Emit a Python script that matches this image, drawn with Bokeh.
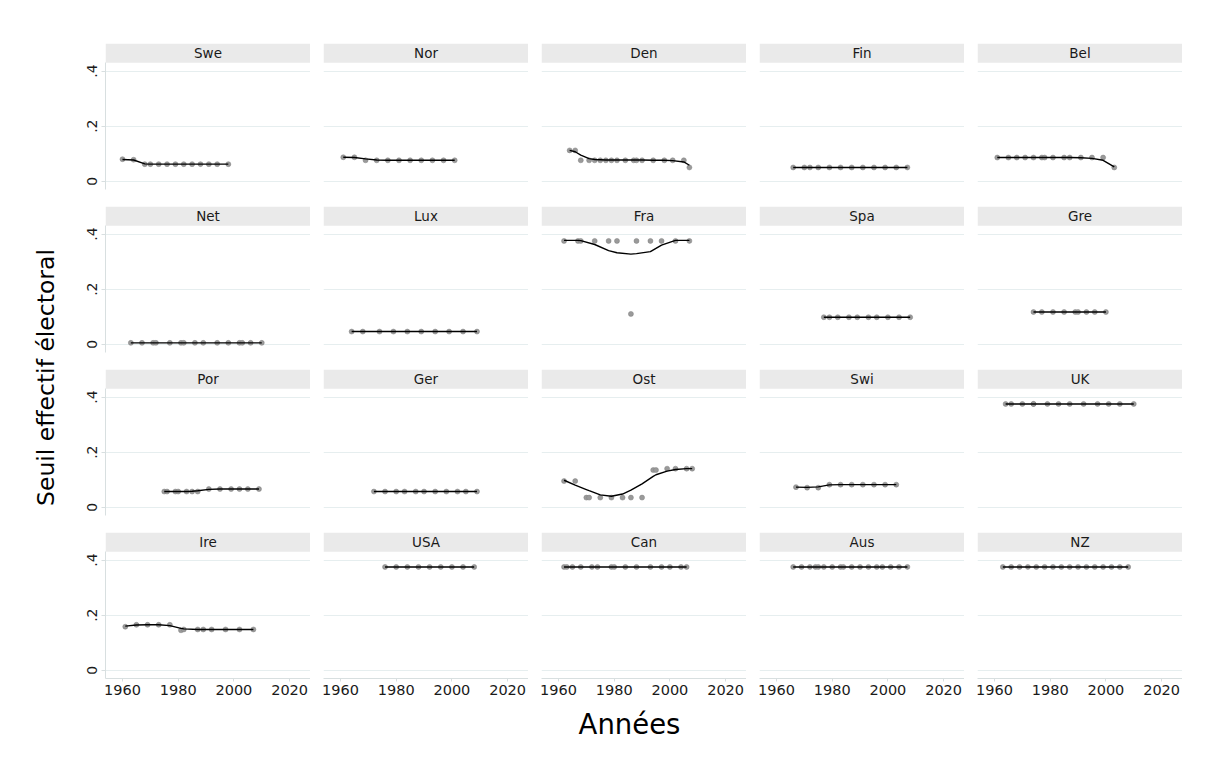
import math
from bokeh.plotting import figure
from bokeh.layouts import row, column
from bokeh.models import Range1d, FixedTicker, BoxAnnotation, Label
from bokeh.embed import file_html
from bokeh.resources import INLINE

FONT = "DejaVu Sans"

# ---------------- data ----------------
PANELS = ["Swe", "Nor", "Den", "Fin", "Bel",
          "Net", "Lux", "Fra", "Spa", "Gre",
          "Por", "Ger", "Ost", "Swi", "UK",
          "Ire", "USA", "Can", "Aus", "NZ"]

swe_years = [1960, 1964, 1968, 1970, 1973, 1976, 1979, 1982, 1985, 1988, 1991, 1994, 1998]
swe_vals = [0.080, 0.078, 0.062, 0.062, 0.062, 0.062, 0.062, 0.062, 0.062, 0.062, 0.062, 0.062, 0.062]
swe_fit = [0.079, 0.077, 0.063, 0.062, 0.062, 0.062, 0.062, 0.062, 0.062, 0.062, 0.062, 0.062, 0.062]

nor_years = [1961, 1965, 1969, 1973, 1977, 1981, 1985, 1989, 1993, 1997, 2001]
nor_vals = [0.087, 0.087, 0.076, 0.076, 0.076, 0.076, 0.076, 0.076, 0.076, 0.076, 0.076]
nor_fit = [0.087, 0.086, 0.081, 0.077, 0.076, 0.076, 0.076, 0.076, 0.076, 0.076, 0.076]

den_years = [1964, 1966, 1968, 1971, 1973, 1975, 1977, 1979, 1981, 1984, 1987, 1988, 1990, 1994, 1998, 2001, 2005, 2007]
den_vals = [0.112, 0.112, 0.076, 0.076, 0.076, 0.076, 0.076, 0.076, 0.076, 0.076, 0.076, 0.076, 0.076, 0.076, 0.076, 0.076, 0.076, 0.050]
den_fit = [0.112, 0.107, 0.095, 0.082, 0.079, 0.078, 0.077, 0.077, 0.077, 0.077, 0.077, 0.077, 0.077, 0.076, 0.076, 0.075, 0.070, 0.058]

fin_years = [1966, 1970, 1972, 1975, 1979, 1983, 1987, 1991, 1995, 1999, 2003, 2007]
fin_vals = [0.050, 0.050, 0.050, 0.050, 0.050, 0.050, 0.050, 0.050, 0.050, 0.050, 0.050, 0.050]

bel_years = [1961, 1965, 1968, 1971, 1974, 1977, 1978, 1981, 1985, 1987, 1991, 1995, 1999, 2003]
bel_vals = [0.086, 0.086, 0.086, 0.086, 0.086, 0.086, 0.086, 0.086, 0.086, 0.086, 0.086, 0.086, 0.086, 0.050]
bel_fit = [0.086, 0.086, 0.086, 0.086, 0.086, 0.086, 0.086, 0.086, 0.086, 0.086, 0.085, 0.083, 0.076, 0.052]

net_years = [1963, 1967, 1971, 1972, 1977, 1981, 1982, 1986, 1989, 1994, 1998, 2002, 2003, 2006, 2010]
net_vals = [0.005, 0.005, 0.005, 0.005, 0.005, 0.005, 0.005, 0.005, 0.005, 0.005, 0.005, 0.005, 0.005, 0.005, 0.005]

lux_years = [1964, 1968, 1974, 1979, 1984, 1989, 1994, 1999, 2004, 2009]
lux_vals = [0.046, 0.046, 0.046, 0.046, 0.046, 0.046, 0.046, 0.046, 0.046, 0.046]

fra_years = [1962, 1967, 1968, 1973, 1978, 1981, 1986, 1988, 1993, 1997, 2002, 2007]
fra_vals = [0.375, 0.375, 0.375, 0.375, 0.375, 0.375, 0.110, 0.375, 0.375, 0.375, 0.375, 0.375]
fra_fit = [0.377, 0.377, 0.376, 0.362, 0.340, 0.332, 0.327, 0.329, 0.336, 0.360, 0.377, 0.377]

spa_years = [1977, 1979, 1982, 1986, 1989, 1993, 1996, 2000, 2004, 2008]
spa_vals = [0.098, 0.098, 0.098, 0.098, 0.098, 0.098, 0.098, 0.098, 0.098, 0.098]

gre_years = [1974, 1977, 1981, 1985, 1989, 1990, 1993, 1996, 2000]
gre_vals = [0.117, 0.117, 0.117, 0.117, 0.117, 0.117, 0.117, 0.117, 0.117]

por_years = [1975, 1976, 1979, 1980, 1983, 1985, 1987, 1991, 1995, 1999, 2002, 2005, 2009]
por_vals = [0.057, 0.057, 0.057, 0.057, 0.057, 0.057, 0.057, 0.066, 0.066, 0.066, 0.066, 0.066, 0.066]
por_fit = [0.057, 0.057, 0.057, 0.057, 0.057, 0.058, 0.060, 0.065, 0.066, 0.066, 0.066, 0.066, 0.066]

ger_years = [1972, 1976, 1980, 1983, 1987, 1990, 1994, 1998, 2002, 2005, 2009]
ger_vals = [0.057, 0.057, 0.057, 0.057, 0.057, 0.057, 0.057, 0.057, 0.057, 0.057, 0.057]

ost_years = [1962, 1966, 1970, 1971, 1975, 1979, 1983, 1986, 1990, 1994, 1995, 1999, 2002, 2006, 2008]
ost_vals = [0.095, 0.095, 0.035, 0.035, 0.035, 0.035, 0.035, 0.035, 0.035, 0.135, 0.135, 0.140, 0.140, 0.140, 0.140]
ost_fit = [0.098, 0.080, 0.064, 0.060, 0.045, 0.040, 0.048, 0.062, 0.085, 0.112, 0.118, 0.131, 0.137, 0.140, 0.140]

swi_years = [1967, 1971, 1975, 1979, 1983, 1987, 1991, 1995, 1999, 2003]
swi_vals = [0.073, 0.071, 0.071, 0.082, 0.082, 0.082, 0.082, 0.082, 0.082, 0.082]
swi_fit = [0.073, 0.072, 0.074, 0.081, 0.082, 0.082, 0.082, 0.082, 0.082, 0.082]

uk_years = [1964, 1966, 1970, 1974, 1974, 1979, 1983, 1987, 1992, 1997, 2001, 2005, 2010]
uk_vals = [0.375, 0.375, 0.375, 0.375, 0.375, 0.375, 0.375, 0.375, 0.375, 0.375, 0.375, 0.375, 0.375]

ire_years = [1961, 1965, 1969, 1973, 1977, 1981, 1982, 1987, 1989, 1992, 1997, 2002, 2007]
ire_vals = [0.158, 0.165, 0.165, 0.165, 0.165, 0.145, 0.148, 0.148, 0.148, 0.148, 0.148, 0.148, 0.148]
ire_fit = [0.160, 0.164, 0.165, 0.165, 0.162, 0.152, 0.150, 0.148, 0.148, 0.148, 0.148, 0.148, 0.148]

usa_years = [1976, 1980, 1984, 1988, 1992, 1996, 2000, 2004, 2008]
usa_vals = [0.375, 0.375, 0.375, 0.375, 0.375, 0.375, 0.375, 0.375, 0.375]

can_years = [1962, 1963, 1965, 1968, 1972, 1974, 1979, 1980, 1984, 1988, 1993, 1997, 2000, 2004, 2006]
can_vals = [0.375, 0.375, 0.375, 0.375, 0.375, 0.375, 0.375, 0.375, 0.375, 0.375, 0.375, 0.375, 0.375, 0.375, 0.375]

aus_years = [1966, 1969, 1972, 1974, 1975, 1977, 1980, 1983, 1984, 1987, 1990, 1993, 1996, 1998, 2001, 2004, 2007]
aus_vals = [0.375, 0.375, 0.375, 0.375, 0.375, 0.375, 0.375, 0.375, 0.375, 0.375, 0.375, 0.375, 0.375, 0.375, 0.375, 0.375, 0.375]

nz_years = [1963, 1966, 1969, 1972, 1975, 1978, 1981, 1984, 1987, 1990, 1993, 1996, 1999, 2002, 2005, 2008]
nz_vals = [0.375, 0.375, 0.375, 0.375, 0.375, 0.375, 0.375, 0.375, 0.375, 0.375, 0.375, 0.375, 0.375, 0.375, 0.375, 0.375]

X_TICKS = [1960, 1980, 2000, 2020]
Y_TICKS = [0, 0.2, 0.4]
Y_LABELS = {0: "0", 0.2: ".2", 0.4: ".4"}
Y_TITLE = "Seuil effectif électoral"
X_TITLE = "Années"

SERIES = {
    "Swe": (swe_years, swe_vals, swe_fit),
    "Nor": (nor_years, nor_vals, nor_fit),
    "Den": (den_years, den_vals, den_fit),
    "Fin": (fin_years, fin_vals, fin_vals),
    "Bel": (bel_years, bel_vals, bel_fit),
    "Net": (net_years, net_vals, net_vals),
    "Lux": (lux_years, lux_vals, lux_vals),
    "Fra": (fra_years, fra_vals, fra_fit),
    "Spa": (spa_years, spa_vals, spa_vals),
    "Gre": (gre_years, gre_vals, gre_vals),
    "Por": (por_years, por_vals, por_fit),
    "Ger": (ger_years, ger_vals, ger_vals),
    "Ost": (ost_years, ost_vals, ost_fit),
    "Swi": (swi_years, swi_vals, swi_fit),
    "UK": (uk_years, uk_vals, uk_vals),
    "Ire": (ire_years, ire_vals, ire_fit),
    "USA": (usa_years, usa_vals, usa_vals),
    "Can": (can_years, can_vals, can_vals),
    "Aus": (aus_years, aus_vals, aus_vals),
    "NZ": (nz_years, nz_vals, nz_vals),
}

# ---------------- layout / style ----------------
X0, X1 = 1953.9, 2027.5
Y0, Y1 = -0.03, 0.5
STRIP_BOTTOM = 0.43
FW, FH = 205, 146
TOP_PAD = 43
LEFT_W = 72
GRID_COLOR = "#e6eeef"
AXIS_COLOR = "#d8dfe0"
STRIP_COLOR = "#eaeaea"
TEXT_COLOR = "#1a1a1a"


def make_panel(name, r, c):
    years, vals, fit = SERIES[name]
    bottom = r == 3
    left = c == 0
    p = figure(frame_width=FW, frame_height=FH,
               x_range=Range1d(X0, X1), y_range=Range1d(Y0, Y1),
               x_axis_location="below" if bottom else None,
               y_axis_location="left" if left else None,
               min_border_left=33 if left else 13, min_border_right=0,
               min_border_top=TOP_PAD if r == 0 else 0,
               min_border_bottom=30 if bottom else 17,
               output_backend="svg", toolbar_location=None, tools="",
               background_fill_color="white", border_fill_color="white",
               outline_line_color=None)
    p.xgrid.visible = False
    p.ygrid.ticker = FixedTicker(ticks=Y_TICKS)
    p.ygrid.grid_line_color = GRID_COLOR
    p.ygrid.grid_line_width = 1.2

    if left:
        ax = p.yaxis[0]
        ax.ticker = FixedTicker(ticks=Y_TICKS)
        ax.major_label_overrides = Y_LABELS
        ax.major_label_orientation = "vertical"
        ax.axis_line_color = AXIS_COLOR
        ax.major_tick_line_color = AXIS_COLOR
        ax.major_tick_out = 4
        ax.major_tick_in = 0
        ax.minor_tick_line_color = None
        ax.major_label_standoff = 4
        ax.major_label_text_font = FONT
        ax.major_label_text_font_size = "14px"
        ax.major_label_text_color = TEXT_COLOR
        ax.bounds = (Y0, STRIP_BOTTOM)
    if bottom:
        ax = p.xaxis[0]
        ax.ticker = FixedTicker(ticks=X_TICKS)
        ax.axis_line_color = AXIS_COLOR
        ax.major_tick_line_color = AXIS_COLOR
        ax.major_tick_out = 3
        ax.major_tick_in = 0
        ax.minor_tick_line_color = None
        ax.major_label_standoff = 3
        ax.major_label_text_font = FONT
        ax.major_label_text_font_size = "14.5px"
        ax.major_label_text_color = TEXT_COLOR

    # strip (facet header)
    p.add_layout(BoxAnnotation(bottom=STRIP_BOTTOM, fill_color=STRIP_COLOR,
                               fill_alpha=1.0, line_color=None, level="underlay"))
    p.add_layout(Label(x=(X0 + X1) / 2, y=(STRIP_BOTTOM + Y1) / 2, text=name,
                       text_align="center", text_baseline="middle",
                       text_font=FONT, text_font_size="13.5px",
                       text_color=TEXT_COLOR))

    p.scatter(years, vals, size=5, fill_color="#9a9a9a", line_color="#808080",
              line_width=0.5)
    p.line(years, fit, line_color="black", line_width=1.4)
    return p


rows = []
for r in range(4):
    rows.append(row(*[make_panel(PANELS[r * 5 + c], r, c) for c in range(5)]))

GRID_W = (33 + FW) + 4 * (13 + FW)
BOTTOM_H = 40
TOTAL_H = (TOP_PAD + FH + 17) + 2 * (FH + 17) + (FH + 30) + BOTTOM_H

bottom_fig = figure(width=GRID_W, height=BOTTOM_H, x_range=Range1d(0, GRID_W),
                    y_range=Range1d(0, BOTTOM_H), x_axis_location=None,
                    y_axis_location=None, min_border=0, outline_line_color=None,
                    output_backend="svg", toolbar_location=None, tools="")
bottom_fig.grid.visible = False
bottom_fig.add_layout(Label(x=629 - LEFT_W, y=BOTTOM_H - 15, text=X_TITLE,
                            text_align="center", text_baseline="middle",
                            text_font=FONT, text_font_size="27.5px",
                            text_color="black"))

left_fig = figure(width=LEFT_W, height=TOTAL_H, x_range=Range1d(0, LEFT_W),
                  y_range=Range1d(0, TOTAL_H), x_axis_location=None,
                  y_axis_location=None, min_border=0, outline_line_color=None,
                  output_backend="svg", toolbar_location=None, tools="")
left_fig.grid.visible = False
left_fig.add_layout(Label(x=45, y=TOTAL_H - 377, text=Y_TITLE, angle=math.pi / 2,
                          text_align="center", text_baseline="middle",
                          text_font=FONT, text_font_size="23.5px",
                          text_color="black"))

layout = row(left_fig, column(*rows, bottom_fig))

open("out.html", "w").write(file_html(layout, INLINE))
